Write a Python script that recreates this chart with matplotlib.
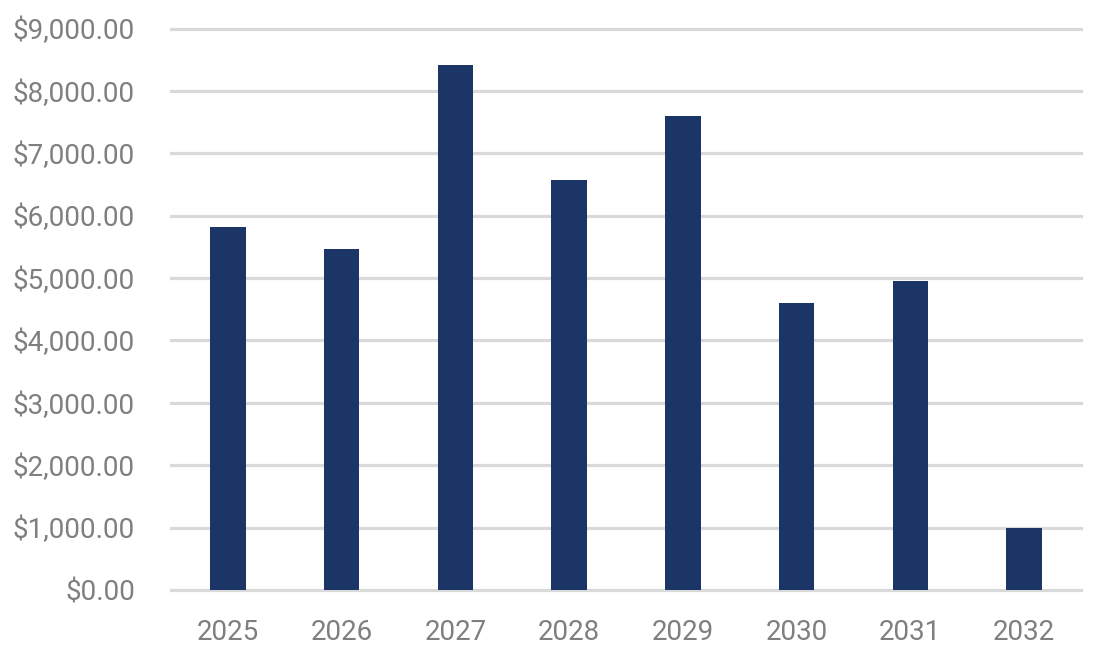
import matplotlib
matplotlib.use("Agg")
import matplotlib.pyplot as plt
from matplotlib.ticker import FuncFormatter, MultipleLocator

years = ["2025", "2026", "2027", "2028", "2029", "2030", "2031", "2032"]
values = [5825, 5470, 8420, 6570, 7600, 4600, 4950, 995]

plt.rcParams['font.family'] = ['Roboto', 'DejaVu Sans']

fig = plt.figure(figsize=(11.05, 6.6), dpi=100)
ax = fig.add_axes([171/1105, 1-590/660, 910/1105, (590-28.5)/660])

x = list(range(len(years)))
ax.bar(x, values, width=0.313, color="#1b3566", zorder=3)

ax.set_xlim(-0.5, len(years) - 0.5)
ax.set_ylim(0, 9000)
ax.yaxis.set_major_locator(MultipleLocator(1000))
ax.yaxis.set_major_formatter(FuncFormatter(lambda v, p: f"${v:,.2f}"))
ax.set_xticks(x)
ax.set_xticklabels(years)

for s in ax.spines.values():
    s.set_visible(False)
ax.tick_params(axis='both', length=0, labelsize=20, colors="#7f7f7f")
ax.tick_params(axis='y', pad=26)
ax.tick_params(axis='x', pad=21)

ax.yaxis.grid(True, color="#d9d9d9", linewidth=2.3, zorder=0)
ax.set_axisbelow(True)
for gl in ax.get_ygridlines():
    gl.set_clip_on(False)

fig.savefig("out.png", dpi=100)
